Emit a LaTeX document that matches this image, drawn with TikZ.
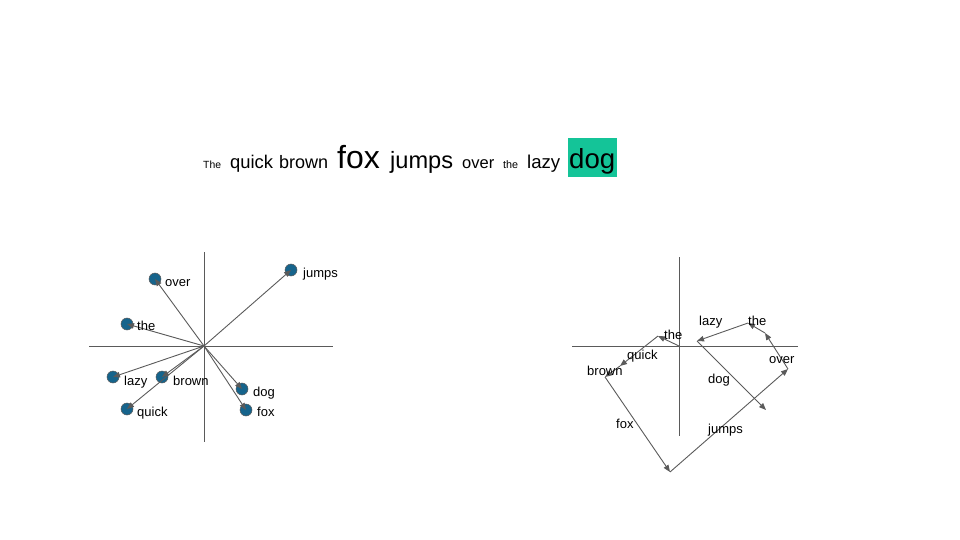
\documentclass[tikz,border=0pt]{standalone}
\usepackage{fontspec}
\setmainfont{Liberation Sans}
\usetikzlibrary{arrows.meta}
\definecolor{dotblue}{RGB}{22,100,140}
\definecolor{linegray}{RGB}{90,90,90}
\definecolor{dogbg}{RGB}{20,196,152}
\tikzset{
  axis/.style={draw=linegray, line width=0.9pt},
  vec/.style={draw=linegray, line width=0.9pt, -{Triangle[length=7pt,width=5.5pt,fill=linegray]}},
  dot/.style={circle, fill=dotblue, draw=linegray, line width=0.5pt, minimum size=12pt, inner sep=0pt},
  lbl/.style={anchor=base west, inner sep=0pt, font=\fontsize{13}{15}\selectfont},
  word/.style={anchor=base west, inner sep=0pt},
}
\begin{document}
\begin{tikzpicture}[x=1pt,y=-1pt]
\useasboundingbox (0,0) rectangle (960,540);
% sentence
\fill[dogbg] (568,138) rectangle (617,177);
\node[word, font=\fontsize{10.4}{12}\selectfont] (w1) at (203,168) {The};
\node[word, font=\fontsize{18.4}{20}\selectfont] (w2) at (230,168) {quick};
\node[word, font=\fontsize{18}{20}\selectfont] (w3) at (279,168) {brown};
\node[word, font=\fontsize{32}{34}\selectfont] (w4) at (337,168) {fox};
\node[word, font=\fontsize{23.6}{26}\selectfont] (w5) at (390,168) {jumps};
\node[word, font=\fontsize{16.5}{18}\selectfont] (w6) at (462,168) {over};
\node[word, font=\fontsize{10.8}{12}\selectfont] (w7) at (503,168) {the};
\node[word, font=\fontsize{18.6}{20}\selectfont] (w8) at (527,168) {lazy};
\node[word, font=\fontsize{27.6}{30}\selectfont] (w9) at (569,168) {dog};
% left plot
\coordinate (O1) at (204,346);
\coordinate (LxA) at (89,346);
\coordinate (LxB) at (333,346);
\coordinate (LyA) at (204,252);
\coordinate (LyB) at (204,442);
\draw[axis] (LxA) -- (LxB);
\draw[axis] (LyA) -- (LyB);
\node[dot] (djumps) at (291,270) {};
\node[dot] (dover) at (155,279) {};
\node[dot] (dthe) at (127,324) {};
\node[dot] (dlazy) at (113,377) {};
\node[dot] (dbrown) at (162,377) {};
\node[dot] (dquick) at (127,409) {};
\node[dot] (ddog) at (242,389) {};
\node[dot] (dfox) at (246,410) {};
\foreach \d in {djumps,dover,dthe,dlazy,dbrown,dquick,ddog,dfox}
  \draw[vec] (O1) -- (\d.center);
\node[lbl] (ljumps) at (303,277) {jumps};
\node[lbl] (lover) at (165,286.5) {over};
\node[lbl] (lthe) at (137,330.5) {the};
\node[lbl] (llazy) at (124,385) {lazy};
\node[lbl] (lbrown) at (173,385) {brown};
\node[lbl] (lquick) at (137,416.5) {quick};
\node[lbl] (ldog) at (253,396) {dog};
\node[lbl] (lfox) at (257,416.5) {fox};
% right plot
\coordinate (O2) at (679,346);
\coordinate (RxA) at (572,346);
\coordinate (RxB) at (798,346);
\coordinate (RyA) at (679,257);
\coordinate (RyB) at (679,436);
\draw[axis] (RxA) -- (RxB);
\draw[axis] (RyA) -- (RyB);
\coordinate (P1) at (658,336);
\coordinate (P2) at (620,366);
\coordinate (P3) at (605,377);
\coordinate (P4) at (670,472);
\coordinate (P5) at (788,369);
\coordinate (P6) at (765,333);
\coordinate (P7) at (748,323);
\coordinate (P8) at (697,341);
\coordinate (P9) at (766,410);
\draw[vec] (O2) -- (P1);
\draw[vec] (P1) -- (P2);
\draw[vec] (P2) -- (P3);
\draw[vec] (P3) -- (P4);
\draw[vec] (P4) -- (P5);
\draw[vec] (P5) -- (P6);
\draw[vec] (P6) -- (P7);
\draw[vec] (P7) -- (P8);
\draw[vec] (P8) -- (P9);
\node[lbl] (rthe1) at (664,339.5) {the};
\node[lbl] (rquick) at (627,359.5) {quick};
\node[lbl] (rbrown) at (587,375) {brown};
\node[lbl] (rfox) at (616,428) {fox};
\node[lbl] (rjumps) at (708,433.5) {jumps};
\node[lbl] (rover) at (769,363.5) {over};
\node[lbl] (rthe2) at (748,325.5) {the};
\node[lbl] (rlazy) at (699,325.5) {lazy};
\node[lbl] (rdog) at (708,383.5) {dog};
\end{tikzpicture}
\end{document}
